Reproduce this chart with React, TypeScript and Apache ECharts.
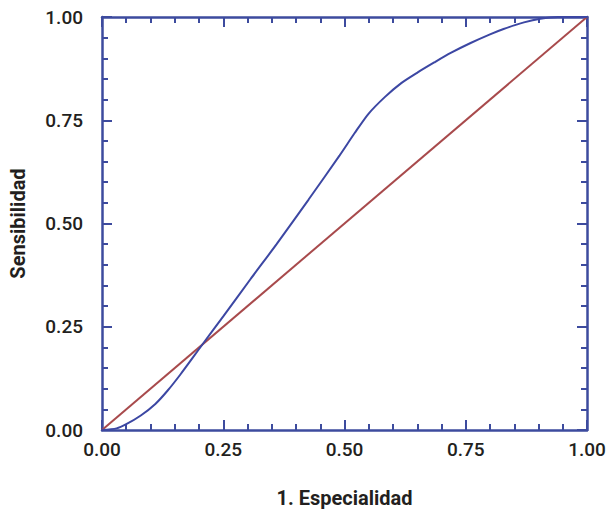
import React, { useEffect, useRef } from "react";
import * as echarts from "echarts";

const rocX = [0, 0.03, 0.05, 0.08, 0.11, 0.135, 0.162, 0.207, 0.25, 0.306, 0.36, 0.426, 0.49, 0.521, 0.549, 0.583, 0.617, 0.651, 0.685, 0.719, 0.76, 0.8, 0.828, 0.87, 0.904, 0.94, 1.0];
const rocY = [0, 0.004, 0.014, 0.035, 0.063, 0.095, 0.135, 0.207, 0.275, 0.365, 0.45, 0.558, 0.665, 0.719, 0.765, 0.806, 0.84, 0.866, 0.89, 0.913, 0.937, 0.958, 0.971, 0.987, 0.996, 1.0, 1.0];
const diagX = [0, 1];
const diagY = [0, 1];
const xName = "1. Especialidad";
const yName = "Sensibilidad";

const AXIS = "#3d4b9e";
const BLUE = "#3c47a3";
const RED = "#a84a4c";
const TEXT = "#231f20";
const FONT = "Roboto, 'Liberation Sans', Arial, sans-serif";

export default function App() {
  const ref = useRef<HTMLDivElement>(null);
  useEffect(() => {
    document.body.style.margin = "0";
    if (!ref.current) return;
    const chart = echarts.init(ref.current, null, { renderer: "svg" });
    const common = (show: boolean) => ({
      type: "value" as const,
      min: 0,
      max: 1,
      interval: 0.25,
      axisLine: { show: true, onZero: false, lineStyle: { color: AXIS, width: 2.5 } },
      axisTick: { show: true, inside: true, length: 10, lineStyle: { color: AXIS, width: 2 } },
      minorTick: { show: true, splitNumber: 5, length: 6, lineStyle: { color: AXIS, width: 2 } },
      splitLine: { show: false },
      minorSplitLine: { show: false },
      axisLabel: {
        show,
        color: TEXT,
        fontSize: 19,
        fontWeight: 500,
        fontFamily: FONT,
        formatter: (v: number) => v.toFixed(2),
      },
    });
    chart.setOption({
      animation: false,
      grid: { left: 99, right: 22, top: 17, bottom: 82 },
      xAxis: [
        {
          ...common(true),
          position: "bottom",
          name: xName,
          nameLocation: "middle",
          nameGap: 58,
          nameTextStyle: { color: TEXT, fontSize: 20, fontWeight: "bold", fontFamily: FONT },
          axisLabel: { ...common(true).axisLabel, margin: 10 },
        },
        { ...common(false), position: "top" },
      ],
      yAxis: [
        {
          ...common(true),
          position: "left",
          name: yName,
          nameLocation: "middle",
          nameGap: 74,
          nameTextStyle: { color: TEXT, fontSize: 20, fontWeight: "bold", fontFamily: FONT },
          axisLabel: { ...common(true).axisLabel, margin: 19 },
        },
        { ...common(false), position: "right" },
      ],
      series: [
        {
          type: "line",
          data: diagX.map((x, i) => [x, diagY[i]]),
          showSymbol: false,
          lineStyle: { color: RED, width: 2 },
          z: 2,
        },
        {
          type: "line",
          data: rocX.map((x, i) => [x, rocY[i]]),
          showSymbol: false,
          smooth: 0.25,
          lineStyle: { color: BLUE, width: 2 },
          z: 3,
        },
      ],
    });
    return () => chart.dispose();
  }, []);
  return <div ref={ref} style={{ width: 609, height: 513 }} />;
}
